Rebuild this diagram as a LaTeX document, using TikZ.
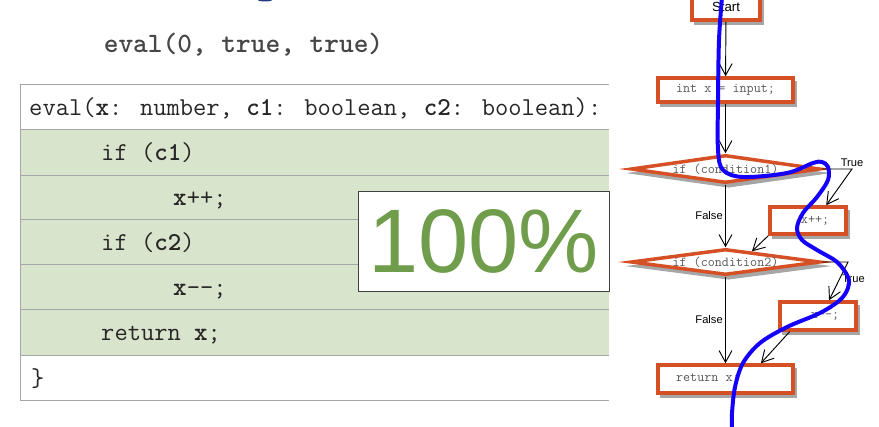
\documentclass[tikz,border=0pt]{standalone}
\usepackage{fontspec}
\newfontfamily\flowsans{Liberation Sans}
\usetikzlibrary{positioning,shapes.geometric,arrows.meta,shadows}

\definecolor{boxred}{RGB}{214,80,38}
\definecolor{rowgreen}{RGB}{216,228,204}
\definecolor{pctgreen}{RGB}{112,157,76}
\definecolor{pathblue}{RGB}{20,0,250}
\definecolor{titlegray}{RGB}{70,70,70}
\definecolor{dotblue}{RGB}{35,60,125}

\tikzset{
  codetext/.style={anchor=base west, inner sep=0pt, font=\ttfamily\fontsize{22}{26}\selectfont, text=black!85},
  flowbox/.style={draw=boxred, line width=3pt, fill=white, inner sep=0pt,
    font=\ttfamily\fontsize{11.7}{14}\selectfont, text=black!65,
    drop shadow={shadow xshift=2.5pt, shadow yshift=-3.5pt, fill=black!35, draw=black!35, line width=2pt, opacity=1}},
  flowdiamond/.style={flowbox, diamond, aspect=1},
  flowarrow/.style={-{Straight Barb[length=10pt,width=11pt]}, line width=0.8pt},
  branchlabel/.style={font=\flowsans\fontsize{9.5}{11}\selectfont, inner sep=2pt},
}

\begin{document}
\begin{tikzpicture}[x=0.03cm,y=-0.03cm]
\useasboundingbox (0,0) rectangle (879,427);

% call
\node[anchor=base, inner sep=0pt, font=\ttfamily\bfseries\fontsize{23.9}{28}\selectfont, text=titlegray] (call) at (243.5,53) {eval(0, true, true)};
\fill[dotblue] (258,0) arc[start angle=180, end angle=0, x radius=7, y radius=1.5];

% code table
\fill[rowgreen] (20,129) rectangle (609,355);
\foreach \y in {84,129,175,219,264,309,355,400}
  \draw[gray!70, line width=0.8pt] (20,\y) -- (609,\y);
\draw[gray!70, line width=0.8pt] (20,84) -- (20,400);

\node[codetext] (sig) at (29,115.5) {eval(\textbf{x}: number, \textbf{c1}: boolean, \textbf{c2}: boolean):};
\node[codetext] (ifa) at (101,160.5) {if (\textbf{c1})};
\node[codetext] (inc) at (173,205.5) {\textbf{x}++;};
\node[codetext] (ifb) at (101,250) {if (\textbf{c2})};
\node[codetext] (dec) at (173,295) {\textbf{x}-{}-;};
\node[codetext] (ret) at (101,340.5) {return \textbf{x};};
\node[codetext] (close) at (31,386) {\}};

% coverage
\node[draw=black!75, fill=white, line width=0.8pt, minimum width=7.53cm, minimum height=3cm, inner sep=0pt,
  font=\flowsans\fontsize{77}{80}\selectfont, text=pctgreen] (cover) at (483.5,241) {100\%};

% flow chart
\node[flowbox, minimum width=2.04cm, minimum height=0.78cm, font=\flowsans\fontsize{11.3}{13}\selectfont, text=black] (start) at (726,7) {Start};
\node[flowbox, minimum width=4.05cm, minimum height=0.72cm] (input) at (725.5,90) {int x = input;};
\node[flowdiamond, minimum width=5.67cm, minimum height=0.84cm] (cond1) at (725.5,169) {\makebox[0pt]{if (condition1)}};
\node[flowbox, minimum width=2.28cm, minimum height=0.81cm] (incbox) at (808,220.5) {\phantom{xx}x++;};
\node[flowdiamond, minimum width=5.67cm, minimum height=0.78cm] (cond2) at (725.5,262) {\makebox[0pt]{if (condition2)}};
\node[flowbox, minimum width=2.28cm, minimum height=0.84cm] (decbox) at (818,316) {\phantom{xx}x-{}-;};
\node[flowbox, minimum width=4.05cm, minimum height=0.84cm] (retbox) at (725.5,379) {return x;\phantom{xxxxx}};

\coordinate (t1) at (852,169);
\coordinate (t2) at (848,262);

\draw[flowarrow] (start) -- (input);
\draw[flowarrow] (input) -- (cond1);
\draw[flowarrow] (cond1) -- node[branchlabel, left] {False} (cond2);
\draw[flowarrow] (cond2) -- node[branchlabel, left] {False} (retbox);
\draw[flowarrow] (cond1.east) -- (t1) node[branchlabel, above] {True} -- (incbox.40);
\draw[flowarrow] (incbox.south west) -- (cond2.22);
\draw[flowarrow] (cond2.east) -- (t2) -- node[branchlabel, right, pos=0.45] {True} (decbox.55);
\draw[flowarrow] (decbox.209) -- (retbox.24);

% executed path
\draw[pathblue, line width=3.4pt, line cap=round] plot[smooth, tension=0.55] coordinates {
  (722,-3) (719,40) (718,100) (718,150) (723,170) (743,177) (787,173) (813,163)
  (822,162) (828,167) (828,180) (817,197) (803,213) (797,228) (802,240) (817,250)
  (837,262) (848,277) (848,288) (840,300) (820,313) (787,327) (760,343) (743,363)
  (735,387) (732,413) (732,430)};
\end{tikzpicture}
\end{document}
